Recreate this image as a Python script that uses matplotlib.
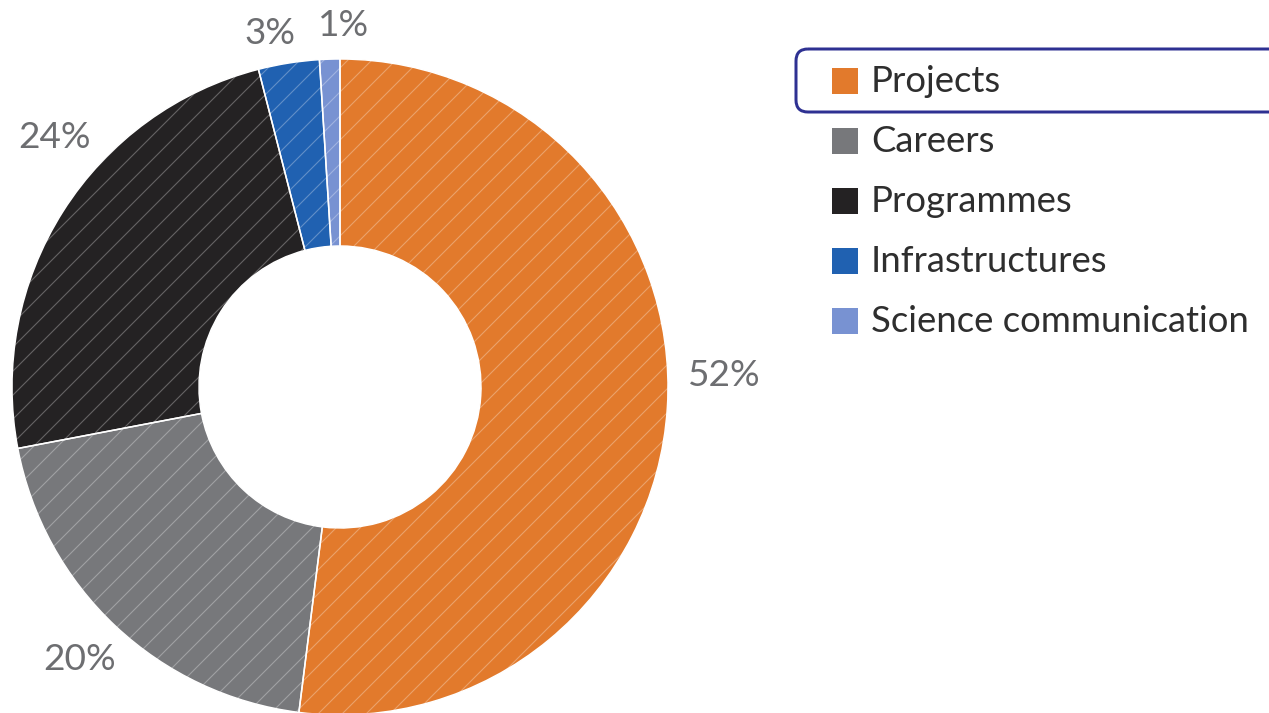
import numpy as np
import matplotlib
matplotlib.use("Agg")
import matplotlib.pyplot as plt
from matplotlib.patches import FancyBboxPatch, Rectangle

categories = ["Projects", "Careers", "Programmes", "Infrastructures", "Science communication"]
shares = [52, 20, 24, 3, 1]
pct_labels = ["52%", "20%", "24%", "3%", "1%"]
colors = ["#e27a2c", "#77787b", "#242223", "#2061b1", "#7892d2"]

W, H, DPI = 1269, 713, 72
plt.rcParams["font.family"] = ["Lato", "DejaVu Sans"]
plt.rcParams["hatch.linewidth"] = 1.1


def tint(c, amount):
    rgb = np.array(matplotlib.colors.to_rgb(c))
    return tuple(rgb + (1 - rgb) * amount)


fig = plt.figure(figsize=(W / DPI, H / DPI), dpi=DPI)
ax = fig.add_axes([0, 0, 1, 1])

# pixel space, y pointing down -> start at -90 and go "counterclock" to look clockwise
center = (340, 387)
r_out, r_in = 328, 141
wedges, _ = ax.pie(shares, colors=colors, startangle=-90, counterclock=True,
                   radius=r_out, center=center,
                   wedgeprops=dict(width=r_out - r_in, linewidth=0))
for w, c in zip(wedges, colors):
    w.set_hatch("/")
    w.set_edgecolor(tint(c, 0.3))
    w.set_linewidth(0)
# thin white separators on top
ax.pie(shares, colors=["none"] * len(shares), startangle=-90, counterclock=True,
       radius=r_out, center=center,
       wedgeprops=dict(width=r_out - r_in, edgecolor="white", linewidth=1.5))

# percentage labels
label_pos = [(724, 376), (80, 659), (54, 137), (270, 33), (344, 26)]
for txt, (x, y) in zip(pct_labels, label_pos):
    ax.text(x, y, txt, ha="center", va="center", fontsize=37, color="#6d6e71")

# legend
for i, (name, c) in enumerate(zip(categories, colors)):
    y = 81 + 60 * i
    ax.add_patch(Rectangle((832, y - 13), 26, 26, facecolor=c, edgecolor="none"))
    ax.text(871, y, name, ha="left", va="center", fontsize=36.5, color="#2e2e2e")

ax.add_patch(FancyBboxPatch((796, 49), 520, 63,
                            boxstyle="round,pad=0,rounding_size=12",
                            facecolor="none", edgecolor="#2e3192", linewidth=3))

ax.set_xlim(0, W)
ax.set_ylim(H, 0)
ax.set_aspect("auto")
ax.axis("off")

fig.savefig("out.png", dpi=DPI)
